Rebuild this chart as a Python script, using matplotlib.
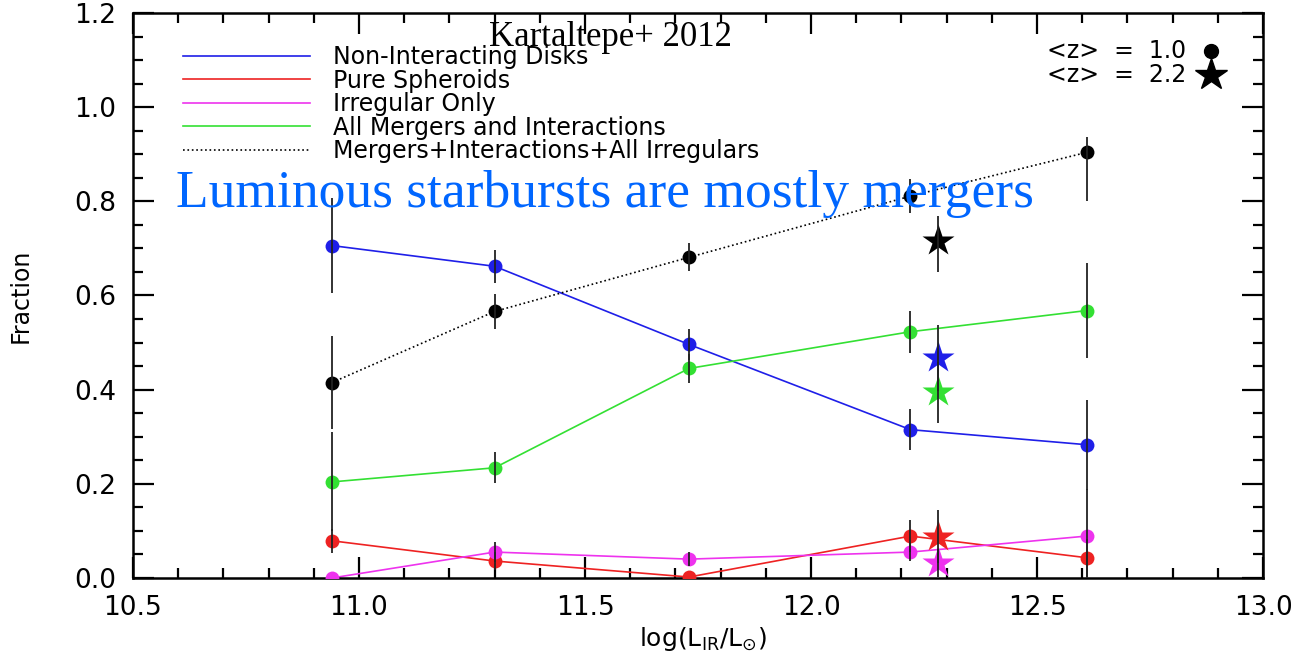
import numpy as np
import matplotlib
matplotlib.use('Agg')
import matplotlib.pyplot as plt
from matplotlib.ticker import MultipleLocator, FormatStrFormatter

# Data (Kartaltepe+ 2012)
lir = [10.94, 11.30, 11.73, 12.22, 12.61]
lir_z2 = 12.28

disks = [0.706, 0.662, 0.496, 0.315, 0.283]
disks_err = [0.100, 0.035, 0.032, 0.043, 0.096]
spheroids = [0.079, 0.036, 0.002, 0.089, 0.043]
spheroids_err = [0.026, 0.020, 0.000, 0.034, 0.040]
irregular = [0.000, 0.055, 0.040, 0.055, 0.089]
irregular_err = [0.000, 0.022, 0.015, 0.020, 0.100]
mergers = [0.204, 0.234, 0.445, 0.523, 0.568]
mergers_err = [0.105, 0.033, 0.030, 0.045, 0.100]
all_irr = [0.415, 0.566, 0.681, 0.811, 0.904]
all_irr_lo = [0.098, 0.037, 0.030, 0.036, 0.104]
all_irr_hi = [0.098, 0.037, 0.030, 0.036, 0.032]

# <z> = 2.2 points: disks, spheroids, irregular, mergers, all
z2_vals = [0.468, 0.088, 0.032, 0.394, 0.715]
z2_lo = [0.070, 0.057, 0.030, 0.065, 0.066]
z2_hi = [0.070, 0.057, 0.030, 0.065, 0.053]

labels = ['Non-Interacting Disks', 'Pure Spheroids', 'Irregular Only',
          'All Mergers and Interactions', 'Mergers+Interactions+All Irregulars']
colors = ['#1f1fe8', '#ee2222', '#ee33ee', '#33e033', 'black']

fig = plt.figure(figsize=(12.96, 6.55), dpi=100)
ax = fig.add_axes([0.1026, 0.1176, 0.872, 0.8626])

series = [(disks, disks_err, disks_err), (spheroids, spheroids_err, spheroids_err),
          (irregular, irregular_err, irregular_err), (mergers, mergers_err, mergers_err),
          (all_irr, all_irr_lo, all_irr_hi)]

for i, (vals, lo, hi) in enumerate(series):
    ls = ':' if i == 4 else '-'
    ax.plot(lir, vals, color=colors[i], lw=1.2, ls=ls, label=labels[i], zorder=2)
    ax.plot(lir, vals, 'o', color=colors[i], ms=10, mec='none', zorder=3)
    ax.errorbar(lir, vals, yerr=[lo, hi], fmt='none', ecolor='#222222',
                elinewidth=1.3, capsize=0, zorder=4)
    ax.plot([lir_z2], [z2_vals[i]], '*', color=colors[i], ms=24, mec='none', zorder=3)
    ax.errorbar([lir_z2], [z2_vals[i]], yerr=[[z2_lo[i]], [z2_hi[i]]], fmt='none',
                ecolor='#222222', elinewidth=1.3, capsize=0, zorder=4)

ax.set_xlim(10.5, 13.0)
ax.set_ylim(0.0, 1.2)
ax.xaxis.set_major_locator(MultipleLocator(0.5))
ax.xaxis.set_minor_locator(MultipleLocator(0.1))
ax.yaxis.set_major_locator(MultipleLocator(0.2))
ax.yaxis.set_minor_locator(MultipleLocator(0.05))
ax.xaxis.set_major_formatter(FormatStrFormatter('%.1f'))
ax.yaxis.set_major_formatter(FormatStrFormatter('%.1f'))
ax.tick_params(which='both', direction='in', top=True, right=True, width=1.6,
               labelsize=19)
ax.tick_params(which='major', length=15)
ax.tick_params(which='minor', length=7)
ax.tick_params(axis='x', pad=12)
ax.tick_params(axis='y', pad=12)
for s in ax.spines.values():
    s.set_linewidth(1.8)

ax.set_xlabel(r'log(L$_{\rm IR}$/L$_{\odot}$)', fontsize=18)
ax.xaxis.set_label_coords(0.504, -0.083)
ax.set_ylabel('Fraction', fontsize=17)
ax.yaxis.set_label_coords(-0.089, 0.5)

leg = ax.legend(loc='upper left', bbox_to_anchor=(0.044, 0.943), frameon=False,
                fontsize=17, handlelength=5.4, handletextpad=0.95, labelspacing=-0.02,
                borderpad=0, borderaxespad=0)

# redshift key, top right
ax.text(0.932, 0.932, '<z>  =  1.0', transform=ax.transAxes, ha='right', va='center',
        fontsize=17)
ax.text(0.932, 0.890, '<z>  =  2.2', transform=ax.transAxes, ha='right', va='center',
        fontsize=17)
ax.plot([0.954], [0.932], 'o', color='black', ms=10, transform=ax.transAxes,
        clip_on=False)
ax.plot([0.954], [0.890], '*', color='black', ms=24, transform=ax.transAxes,
        clip_on=False)

fig.text(0.471, 0.930, 'Kartaltepe+ 2012', fontsize=25, family='Liberation Serif',
         ha='center', va='baseline', zorder=10)
fig.text(0.467, 0.684, 'Luminous starbursts are mostly mergers', fontsize=38.5,
         family='Liberation Serif', color='#0066ff', ha='center', va='baseline',
         zorder=10)

fig.savefig('out.png', dpi=100)
